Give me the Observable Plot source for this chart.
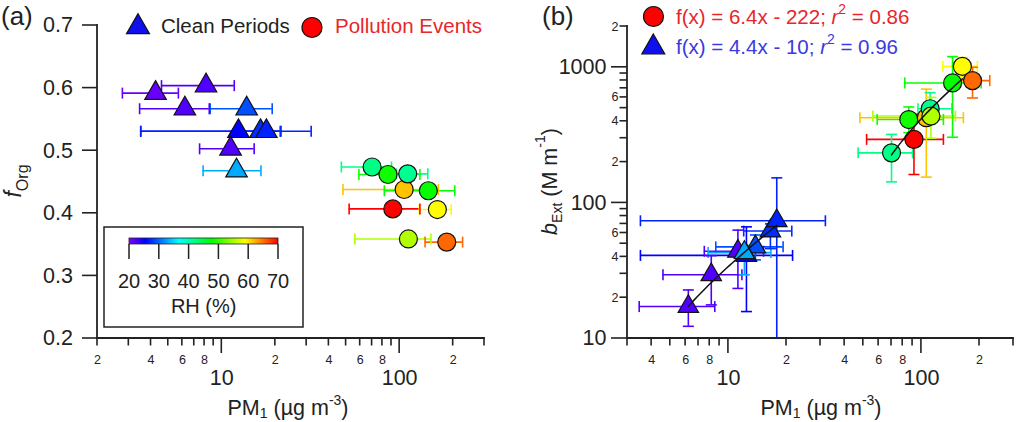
<!DOCTYPE html>
<html>
<head>
<meta charset="utf-8">
<script src="https://cdn.jsdelivr.net/npm/d3@7"></script>
<script src="https://cdn.jsdelivr.net/npm/@observablehq/plot@0.6"></script>
<style>
  body { margin: 0; background: #fff; }
  #wrap { position: relative; width: 1018px; height: 422px; overflow: hidden; background: #fff; }
  #wrap svg { position: absolute; top: 0; overflow: visible; }
</style>
</head>
<body>
<div id="wrap"></div>
<script>
// ---------------- DATA ----------------
// Clean periods (triangles)
const cleanPM   = [4.24, 8.15, 6.2, 13.8, 12.4, 16.5, 17.8, 11.2, 12.1];
const cleanPMLo = [2.76, 4.58, 3.45, 8.6, 3.5, 12.0, 3.5, 7.5, 7.85];
const cleanPMHi = [5.7, 11.75, 8.5, 19.2, 21.5, 21.3, 31.8, 15.2, 16.6];
const cleanFOrg = [0.592, 0.604, 0.567, 0.567, 0.531, 0.531, 0.531, 0.503, 0.468];
const cleanBExt = [8, 29.5, 17.2, 47.4, 41, 62, 73.8, 44, 43];
const cleanBLo  = [6.5, 17.7, 12.3, 38, 15.8, 46, 5, 23.4, 29.5];
const cleanBHi  = [9.5, 40.8, 22.8, 58, 66.6, 70, 153, 63, 48.5];
const cleanRH   = [21, 22, 22, 29, 25.5, 27.5, 27, 22, 33];

// Pollution events (circles)
const pollPM   = [70, 86, 106, 111, 145, 91.5, 163, 112, 184];
const pollPMLo = [47, 59, 48, 96, 82, 52, 129, 56, 139];
const pollPMHi = [90, 130, 165, 144, 204, 130, 195, 150, 226];
const pollFOrg = [0.474, 0.462, 0.438, 0.463, 0.436, 0.407, 0.406, 0.359, 0.354];
const pollBExt = [234, 412, 425, 495, 767, 294, 1016, 437, 798];
const pollBLo  = [143, 330, 155, 380, 305, 162, 850, 300, 594];
const pollBHi  = [320, 510, 690, 650, 1200, 450, 1180, 600, 1000];
const pollRH   = [42, 48.5, 61.5, 41.5, 48, 70, 59, 55.5, 65.5];

// Fits (from legend)
const pollFitSlope = 6.4, pollFitIntercept = -222, pollFitRange = [70, 163];
const cleanFitSlope = 4.4, cleanFitIntercept = -10, cleanFitRange = [6.2, 17.8];

// RH colour ramp
const rhStops  = [20, 25.5, 36.7, 47.8, 58.9, 70];
const rhColors = ["#8000ff", "#0000ff", "#00ffff", "#00ff00", "#ffff00", "#ff0000"];
const rhTicks  = [20, 30, 40, 50, 60, 70];

// Ticks
const aXMajor = [10, 100];
const aXMinor = [2,3,4,5,6,7,8,9,20,30,40,50,60,70,80,90,200,300];
const aXMinorText = ["2","","4","","6","","8","","2","","4","","6","","8","","2",""];
const aYTicks = [0.2, 0.3, 0.4, 0.5, 0.6, 0.7];
const bXMajor = [10, 100];
const bXMinor = [3,4,5,6,7,8,9,20,30,40,50,60,70,80,90,200,300];
const bXMinorText = ["","4","","6","","8","","2","","4","","6","","8","","2",""];
const bYMajor = [10, 100, 1000];
const bYMinor = [20,30,40,50,60,70,80,90,200,300,400,500,600,700,800,900,2000];
const bYMinorText = ["2","","4","","6","","","","2","","4","","6","","","","2"];

// ---------------- BUILD ----------------
const font = "'Liberation Sans', Arial, Helvetica, sans-serif";
const ink = "#222";
const rows = (pm, lo, hi, forg, b, blo, bhi, rh) =>
  pm.map((v, i) => ({pm: v, lo: lo[i], hi: hi[i], forg: forg[i], b: b[i], blo: blo[i], bhi: bhi[i], rh: rh[i]}));
const clean = rows(cleanPM, cleanPMLo, cleanPMHi, cleanFOrg, cleanBExt, cleanBLo, cleanBHi, cleanRH);
const poll  = rows(pollPM, pollPMLo, pollPMHi, pollFOrg, pollBExt, pollBLo, pollBHi, pollRH);
const both = clean.concat(poll);

const A = {left: 0,   w: 509, h: 422, ml: 97,  mr: 25, mt: 25, mb: 84, xd: [2, 300], yd: [0.2, 0.7], ylog: false};
const B = {left: 509, w: 509, h: 422, ml: 118, mr: 5,  mt: 26, mb: 84, xd: [3, 300], yd: [10, 2000], ylog: true};
const inB = d => d.b >= B.yd[0] && d.b <= B.yd[1];
const bothB = both.filter(inB);
const cleanB = clean.filter(inB);
const pollB = poll.filter(inB);

const capV = {draw(ctx) { ctx.moveTo(0, -5.5); ctx.lineTo(0, 5.5); }};
const capH = {draw(ctx) { ctx.moveTo(-5.5, 0); ctx.lineTo(5.5, 0); }};
const colorOpt = {type: "linear", domain: rhStops, range: rhColors, interpolate: "rgb"};
const lab = (ticks, texts) => { const m = new Map(ticks.map((t, i) => [t, texts[i]])); return d => m.get(d) ?? ""; };
const ew = 1.6;
const tw = 1.6;

function axisLabels(xMinor, xMajor, yMinor, yMajor, yMajorLen, xFmt, yMinorFmt, yMajorFmt, yPad, yMinorPad) {
  return [
    Plot.text(xMinor, {x: d => d, frameAnchor: "bottom", dy: 7 + 9.5, lineAnchor: "top", text: xFmt, fontSize: 12.5, fill: ink}),
    Plot.text(xMajor, {x: d => d, frameAnchor: "bottom", dy: 15 + 16, lineAnchor: "top", text: d => String(d), fontSize: 21.5, fill: ink}),
    Plot.text(yMinor, {y: d => d, frameAnchor: "left", dx: -(7 + yMinorPad), textAnchor: "end", text: yMinorFmt, fontSize: 12.5, fill: ink}),
    Plot.text(yMajor, {y: d => d, frameAnchor: "left", dx: -(yMajorLen + yPad), textAnchor: "end", text: yMajorFmt, fontSize: 21.5, fill: ink})
  ];
}
function hErr(data, yKey) {
  return [
    Plot.ruleY(data, {y: yKey, x1: "lo", x2: "hi", stroke: "rh", strokeWidth: ew}),
    Plot.dot(data, {x: "lo", y: yKey, symbol: capV, fill: "none", stroke: "rh", strokeWidth: ew}),
    Plot.dot(data, {x: "hi", y: yKey, symbol: capV, fill: "none", stroke: "rh", strokeWidth: ew})
  ];
}
function vErr(data, ymin) {
  return [
    Plot.ruleX(data, {x: "pm", y1: d => Math.max(d.blo, ymin), y2: "bhi", stroke: "rh", strokeWidth: ew}),
    Plot.dot(data.filter(d => d.blo >= ymin), {x: "pm", y: "blo", symbol: capH, fill: "none", stroke: "rh", strokeWidth: ew}),
    Plot.dot(data, {x: "pm", y: "bhi", symbol: capH, fill: "none", stroke: "rh", strokeWidth: ew})
  ];
}
function fitPts(slope, intercept, range) {
  const [x0, x1] = range;
  return d3.range(0, 31).map(k => { const x = x0 * Math.pow(x1 / x0, k / 30); return {x, y: slope * x + intercept}; });
}

// Panel (a)
const plotA = Plot.plot({
  width: A.w, height: A.h,
  marginLeft: A.ml, marginRight: A.mr, marginTop: A.mt, marginBottom: A.mb,
  style: {fontFamily: font, background: "transparent", color: ink, overflow: "visible"},
  x: {type: "log", domain: A.xd, axis: null, label: null},
  y: {type: "linear", domain: A.yd, axis: null, label: null},
  color: colorOpt,
  marks: [
    ...axisLabels(aXMinor, aXMajor, [], aYTicks, 15, lab(aXMinor, aXMinorText), d => "", d3.format(".1f"), 9.5, 2),
    ...hErr(both, "forg"),
    Plot.dot(clean, {x: "pm", y: "forg", symbol: "triangle", r: 8, fill: "rh", stroke: "#111", strokeWidth: 1.2}),
    Plot.dot(poll, {x: "pm", y: "forg", symbol: "circle", r: 9, fill: "rh", stroke: "#111", strokeWidth: 1.2})
  ]
});

// Panel (b)
const plotB = Plot.plot({
  width: B.w, height: B.h,
  marginLeft: B.ml, marginRight: B.mr, marginTop: B.mt, marginBottom: B.mb,
  style: {fontFamily: font, background: "transparent", color: ink, overflow: "visible"},
  x: {type: "log", domain: B.xd, axis: null, label: null},
  y: {type: "log", domain: B.yd, axis: null, label: null},
  color: colorOpt,
  marks: [
    ...axisLabels(bXMinor, bXMajor, bYMinor, bYMajor, 16, lab(bXMinor, bXMinorText), lab(bYMinor, bYMinorText), d => String(d), 5, 2),
    ...hErr(bothB, "b"),
    ...vErr(bothB, B.yd[0]),
    Plot.dot(cleanB, {x: "pm", y: "b", symbol: "triangle", r: 7.6, fill: "rh", stroke: "#111", strokeWidth: 1.2}),
    Plot.dot(pollB, {x: "pm", y: "b", symbol: "circle", r: 9, fill: "rh", stroke: "#111", strokeWidth: 1.2}),
    Plot.line(fitPts(cleanFitSlope, cleanFitIntercept, cleanFitRange), {x: "x", y: "y", stroke: "#111", strokeWidth: 1.5}),
    Plot.line(fitPts(pollFitSlope, pollFitIntercept, pollFitRange), {x: "x", y: "y", stroke: "#111", strokeWidth: 1.5})
  ]
});

const wrap = document.getElementById("wrap");
plotA.style.left = A.left + "px";
plotB.style.left = B.left + "px";
wrap.appendChild(plotA);
wrap.appendChild(plotB);

// ---------------- TEXT / LEGENDS ----------------
function addText(svg, o) {
  const t = d3.select(svg).append("text")
    .attr("transform", `translate(${o.x},${o.y})` + (o.rotate ? ` rotate(${o.rotate})` : ""))
    .attr("text-anchor", o.anchor || "start")
    .attr("font-size", o.size || 20.5)
    .attr("font-family", font)
    .attr("fill", o.fill || ink);
  for (const p of o.parts) {
    const ts = t.append("tspan").text(p.t);
    if (p.size) ts.attr("font-size", p.size);
    if (p.dy) ts.attr("dy", p.dy);
    if (p.italic) ts.attr("font-style", "italic");
  }
  return t;
}
function addSymbol(svg, type, r, x, y, fill) {
  d3.select(svg).append("path")
    .attr("d", d3.symbol(type, Math.PI * r * r)())
    .attr("transform", `translate(${x},${y})`)
    .attr("fill", fill).attr("stroke", "#111").attr("stroke-width", 1.2);
}

addText(plotA, {x: 1, y: 24.5, size: 26, parts: [{t: "(a)"}]});
addText(plotB, {x: 542 - 509, y: 24.5, size: 26, parts: [{t: "(b)"}]});

const pmParts = [{t: "PM"}, {t: "1", size: 14, dy: 3}, {t: " (µg m", dy: -3}, {t: "-3", size: 14, dy: -10}, {t: ")", dy: 10}];
addText(plotA, {x: 288, y: 415, anchor: "middle", size: 21.5, parts: pmParts});
addText(plotB, {x: 821 - 509, y: 415, anchor: "middle", size: 21.5, parts: pmParts});
addText(plotA, {x: 21, y: 181, rotate: -90, anchor: "middle", size: 23, parts: [{t: "f", italic: true}, {t: "Org", size: 16, dy: 6.5}]});
addText(plotB, {x: 556.5 - 509, y: 181.5, rotate: -90, anchor: "middle", size: 21.5,
  parts: [{t: "b", italic: true}, {t: "Ext", size: 14, dy: 5}, {t: " (M m", dy: -5}, {t: "-1", size: 14, dy: -12}, {t: ")", dy: 12}]});

addSymbol(plotA, d3.symbolTriangle, 8.5, 138, 27, "#1010ee");
addText(plotA, {x: 161, y: 33.3, parts: [{t: "Clean Periods"}]});
addSymbol(plotA, d3.symbolCircle, 10, 312, 27.5, "#ff0000");
addText(plotA, {x: 335, y: 33.3, fill: "#e8262a", parts: [{t: "Pollution Events"}]});

addSymbol(plotB, d3.symbolCircle, 10, 653.5 - 509, 16.5, "#ff0000");
addText(plotB, {x: 676 - 509, y: 23.5, fill: "#e8262a",
  parts: [{t: `f(x) = ${pollFitSlope}x - ${-pollFitIntercept}; `}, {t: "r", italic: true}, {t: "2", size: 14, dy: -10}, {t: " = 0.86", dy: 10}]});
addSymbol(plotB, d3.symbolTriangle, 8.5, 653.3 - 509, 47.2, "#1010ee");
addText(plotB, {x: 676 - 509, y: 53.5, fill: "#3a3ae0",
  parts: [{t: `f(x) = ${cleanFitSlope}x - ${-cleanFitIntercept}; `}, {t: "r", italic: true}, {t: "2", size: 14, dy: -10}, {t: " = 0.96", dy: 10}]});

// colour bar legend in (a)
(function () {
  const svg = d3.select(plotA);
  const g = svg.append("g");
  const color = plotA.scale("color");
  const cx = d3.scaleLinear().domain([20, 70]).range([129, 278]);
  const defs = svg.append("defs");
  const grad = defs.append("linearGradient").attr("id", "rhgrad").attr("x1", "0%").attr("x2", "100%");
  rhStops.forEach(s => grad.append("stop").attr("offset", ((s - 20) / 50 * 100) + "%").attr("stop-color", color.apply(s)));
  g.append("rect").attr("x", 104).attr("y", 227).attr("width", 199).attr("height", 100)
    .attr("fill", "white").attr("stroke", ink).attr("stroke-width", 1.5);
  g.append("rect").attr("x", cx(20)).attr("y", 238).attr("width", cx(70) - cx(20)).attr("height", 6)
    .attr("fill", "url(#rhgrad)").attr("stroke", ink).attr("stroke-width", 0.8);
  rhTicks.forEach(t => {
    g.append("rect").attr("x", cx(t) - 0.75).attr("y", 244).attr("width", 1.5).attr("height", 15).attr("fill", ink);
    g.append("text").attr("x", cx(t)).attr("y", 287.7).attr("text-anchor", "middle")
      .attr("font-size", 20).attr("font-family", font).attr("fill", ink).text(String(t));
  });
  g.append("text").attr("x", 203.7).attr("y", 313).attr("text-anchor", "middle")
    .attr("font-size", 20).attr("font-family", font).attr("fill", ink).text("RH (%)");
})();

// ---------------- AXIS LINES AND TICKS: separate overlay SVG on top of both panels ----------------
const overlay = d3.select(wrap).append("svg")
  .attr("width", 1018).attr("height", 422)
  .style("position", "absolute").style("left", "0px").style("top", "0px")
  .style("z-index", 5).style("pointer-events", "none");

function drawAxes(P, plotNode, xMinor, xMajor, yMinor, yMajor, yMajorLen) {
  // positions from the plot's own scales, with an identical d3 scale as a safety net
  const fx = d3.scaleLog().domain(P.xd).range([P.ml, P.w - P.mr]);
  const fy = (P.ylog ? d3.scaleLog() : d3.scaleLinear()).domain(P.yd).range([P.h - P.mb, P.mt]);
  let px = v => fx(v), py = v => fy(v);
  try {
    const sx = plotNode.scale("x"), sy = plotNode.scale("y");
    px = v => { const p = sx.apply(v); return Number.isFinite(p) ? p : fx(v); };
    py = v => { const p = sy.apply(v); return Number.isFinite(p) ? p : fy(v); };
  } catch (e) { /* keep fallback */ }
  const g = overlay.append("g").attr("transform", `translate(${P.left},0)`);
  const seg = (x1, y1, x2, y2, w) => g.append("line")
    .attr("x1", x1).attr("y1", y1).attr("x2", x2).attr("y2", y2)
    .attr("stroke", ink).attr("stroke-width", w).attr("stroke-linecap", "butt");
  const xl = px(P.xd[0]), xr = px(P.xd[1]);
  const yb = py(P.yd[0]), yt = py(P.yd[1]);
  xMinor.forEach(v => { const p = px(v); seg(p, yb, p, yb + 7.5, tw); });
  xMajor.forEach(v => { const p = px(v); seg(p, yb, p, yb + 15, tw); });
  yMinor.forEach(v => { const p = py(v); seg(xl, p, xl - 7.5, p, tw); });
  yMajor.forEach(v => { const p = py(v); seg(xl, p, xl - yMajorLen, p, tw); });
  seg(xl, yt - 0.9, xl, yb + 0.9, 1.8);
  seg(xl - 0.9, yb, xr + 0.9, yb, 1.8);
}
drawAxes(A, plotA, aXMinor, aXMajor, [], aYTicks, 15);
drawAxes(B, plotB, bXMinor, bXMajor, bYMinor, bYMajor, 16);
</script>
</body>
</html>
